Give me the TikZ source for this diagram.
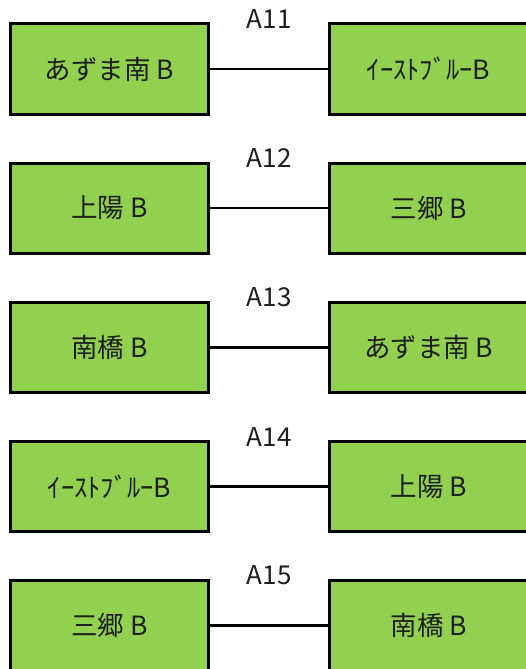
\documentclass[tikz,border=0pt]{standalone}
\usepackage{fontspec}
\setmainfont{Noto Sans CJK JP}
\definecolor{boxgreen}{HTML}{92D050}
\definecolor{inkgray}{HTML}{1E1E1E}

\begin{document}
\begin{tikzpicture}[x=1pt,y=-1pt]

\tikzset{station/.style = {shape=rectangle,draw=black,line width=3pt,fill=boxgreen,
  minimum width=197.7pt,minimum height=90pt,inner sep=0pt,text=inkgray,
  font=\fontsize{26.5}{26.5}\selectfont}}
\tikzset{link/.style = {line width=2.8pt}}
\tikzset{route/.style = {above=39pt,inner sep=0pt,text=inkgray,
  font=\fontsize{26}{26}\selectfont}}

\useasboundingbox (0,0) rectangle (526,669);
\clip (0,0) rectangle (526,669);

%stations
\node[station] (l1) at (109.6,69) {あずま南 B};
\node[station] (r1) at (428.7,69) {ｲｰｽﾄﾌﾞﾙｰB};
\node[station] (l2) at (109.6,208) {上陽 B};
\node[station] (r2) at (428.7,208) {三郷 B};
\node[station] (l3) at (109.6,347.5) {南橋 B};
\node[station] (r3) at (428.7,347.5) {あずま南 B};
\node[station] (l4) at (109.6,486.5) {ｲｰｽﾄﾌﾞﾙｰB};
\node[station] (r4) at (428.7,486.5) {上陽 B};
\node[station] (l5) at (109.6,625.5) {三郷 B};
\node[station] (r5) at (428.7,625.5) {南橋 B};
%links
\draw [link] (l1) -- (r1) node [midway, route] {A11};
\draw [link] (l2) -- (r2) node [midway, route] {A12};
\draw [link] (l3) -- (r3) node [midway, route] {A13};
\draw [link] (l4) -- (r4) node [midway, route] {A14};
\draw [link] (l5) -- (r5) node [midway, route] {A15};

\end{tikzpicture}
\end{document}
